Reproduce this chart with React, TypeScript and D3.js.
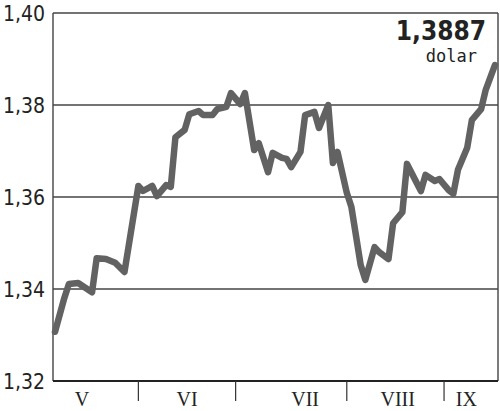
import React from "react";
import * as d3 from "d3";

const days = [0, 2, 3, 5, 8, 9, 11, 13, 15, 18, 19, 21, 22, 24, 25, 26, 28, 29, 31, 32, 34, 35, 37, 38, 40, 41, 43, 44, 46, 47, 49, 50, 51, 53, 54, 56, 57, 59, 60, 61, 63, 64, 66, 67, 69, 70, 72, 73, 75, 76, 77, 79, 80, 82, 83, 85, 86, 87, 89, 90, 92, 93, 95];
const values = [1.3307, 1.338, 1.3411, 1.3413, 1.3393, 1.3467, 1.3465, 1.3457, 1.3437, 1.3624, 1.3613, 1.3624, 1.3602, 1.3626, 1.3622, 1.373, 1.3746, 1.378, 1.3787, 1.3778, 1.3778, 1.3791, 1.3796, 1.3826, 1.3802, 1.3826, 1.3702, 1.3717, 1.3654, 1.3696, 1.3685, 1.3683, 1.3665, 1.3698, 1.3778, 1.3785, 1.375, 1.38, 1.3674, 1.3698, 1.3609, 1.3578, 1.3452, 1.342, 1.3491, 1.348, 1.3465, 1.3543, 1.3567, 1.3672, 1.3652, 1.3613, 1.3648, 1.3635, 1.3639, 1.3615, 1.3607, 1.3659, 1.3707, 1.3767, 1.3791, 1.3833, 1.3887];
const yTicks = [1.32, 1.34, 1.36, 1.38, 1.4];
const monthBoundaries = [18, 39, 63, 84];
const monthLabels = ["V", "VI", "VII", "VIII", "IX"];
const monthLabelDays = [5.8, 28.5, 54, 74, 88.8];
const lastValueLabel = "1,3887";
const unitLabel = "dolar";

export default function App() {
  const W = 500, H = 411;
  const left = 53, right = 498, top = 13, bottom = 381;
  const x = d3.scaleLinear().domain([0, 95]).range([55, 495]);
  const y = d3.scaleLinear().domain([1.32, 1.4]).range([bottom, top]);
  const line = d3.line<number>().x((_, i) => x(days[i])).y((d) => y(d));
  const fmt = (v: number) => v.toFixed(2).replace(".", ",");
  return (
    <svg width={W} height={H} style={{ position: "absolute", left: 0, top: 0, background: "#fff" }}>
      {yTicks.map((t) => (
        <g key={t}>
          {t > 1.32 && (
            <line x1={left} x2={right} y1={y(t)} y2={y(t)} stroke="#444" strokeWidth={1.4} />
          )}
          <text x={45} y={y(t)} dy="0.36em" textAnchor="end" fontFamily="'DejaVu Sans Condensed', 'DejaVu Sans'" fontWeight={300} fontSize={21} fill="#222">
            {fmt(t)}
          </text>
        </g>
      ))}
      <line x1={left} x2={left} y1={top} y2={bottom} stroke="#444" strokeWidth={1.4} />
      <line x1={right} x2={right} y1={top} y2={bottom} stroke="#444" strokeWidth={1.4} />
      <line x1={left} x2={right} y1={bottom} y2={bottom} stroke="#222" strokeWidth={2.2} />
      {monthBoundaries.map((d) => (
        <line key={d} x1={x(d)} x2={x(d)} y1={bottom} y2={401} stroke="#333" strokeWidth={1.2} />
      ))}
      {monthLabels.map((m, i) => (
        <text key={m} x={x(monthLabelDays[i])} y={406} textAnchor="middle" fontFamily="'Liberation Serif', serif" fontSize={20} fill="#222">
          {m}
        </text>
      ))}
      <path d={line(values) || ""} fill="none" stroke="#626262" strokeWidth={6.5} strokeLinejoin="round" strokeLinecap="round" />
      <text x={486} y={40} textAnchor="end" fontFamily="'DejaVu Sans Condensed', 'DejaVu Sans'" fontWeight="bold" fontSize={26} fill="#222">
        {lastValueLabel}
      </text>
      <text x={477} y={62} textAnchor="end" fontFamily="'DejaVu Sans Mono', monospace" fontSize={17} fill="#222">
        {unitLabel}
      </text>
    </svg>
  );
}
